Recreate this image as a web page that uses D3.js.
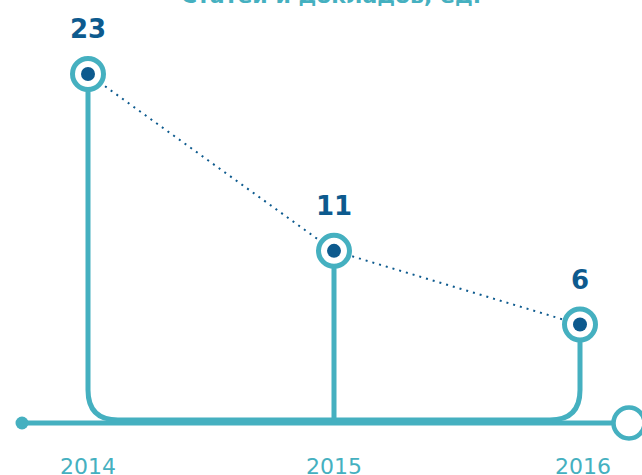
<!DOCTYPE html>
<html>
<head>
<meta charset="utf-8">
<script src="https://cdn.jsdelivr.net/npm/d3@7"></script>
<style>
body { margin: 0; background: #fff; }
</style>
</head>
<body>
<script>
var years = ["2014", "2015", "2016"];
var values = [23, 11, 6];
var title = "Статей и докладов, ед.";

var width = 642,
    height = 475;

var teal = "#45b0c0",
    navy = "#0d5a8e";

var svg = d3.select("body")
    .append("svg")
    .attr("width", width)
    .attr("height", height);

var x = d3.scalePoint()
    .domain(years)
    .range([88, 580]);

var y = d3.scaleLinear()
    .domain([0, 23])
    .range([413, 74]);

var axisY = 423;

// title (cut off at the top)
svg.append("text")
    .attr("x", 331)
    .attr("y", 3)
    .attr("text-anchor", "middle")
    .attr("font-family", "DejaVu Sans")
    .attr("font-weight", "bold")
    .attr("font-size", 22)
    .attr("fill", teal)
    .text(title);

// axis line
svg.append("line")
    .attr("x1", 22).attr("x2", 612)
    .attr("y1", axisY).attr("y2", axisY)
    .attr("stroke", teal)
    .attr("stroke-width", 5);

svg.append("circle")
    .attr("cx", 22).attr("cy", axisY).attr("r", 6.5)
    .attr("fill", teal);

svg.append("circle")
    .attr("cx", 629).attr("cy", axisY).attr("r", 15.5)
    .attr("fill", "#fff")
    .attr("stroke", teal)
    .attr("stroke-width", 4.5);

// stems: first and last curve into the axis
var r = 30, base = 420;
var x0 = x(years[0]), x2 = x(years[2]);
var stem = d3.path();
stem.moveTo(x0, y(values[0]));
stem.lineTo(x0, base - r);
stem.quadraticCurveTo(x0, base, x0 + r, base);
stem.lineTo(x2 - r, base);
stem.quadraticCurveTo(x2, base, x2, base - r);
stem.lineTo(x2, y(values[2]));

svg.append("path")
    .attr("d", stem.toString())
    .attr("fill", "none")
    .attr("stroke", teal)
    .attr("stroke-width", 5);

svg.append("line")
    .attr("x1", x(years[1])).attr("x2", x(years[1]))
    .attr("y1", y(values[1])).attr("y2", axisY)
    .attr("stroke", teal)
    .attr("stroke-width", 5);

// dotted connector
var line = d3.line()
    .x(function(d, i){ return x(years[i]); })
    .y(function(d){ return y(d); });

svg.append("path")
    .datum(values)
    .attr("d", line)
    .attr("fill", "none")
    .attr("stroke", navy)
    .attr("stroke-width", 2)
    .attr("stroke-dasharray", "2,5");

// markers
var pts = svg.selectAll(".pt")
    .data(values)
    .enter()
    .append("g")
    .attr("class", "pt")
    .attr("transform", function(d, i){
        return "translate(" + x(years[i]) + "," + y(d) + ")";
    });

pts.append("circle")
    .attr("r", 15.5)
    .attr("fill", "#fff")
    .attr("stroke", teal)
    .attr("stroke-width", 5);

pts.append("circle")
    .attr("r", 7)
    .attr("fill", navy);

pts.append("text")
    .attr("y", -36)
    .attr("text-anchor", "middle")
    .attr("font-family", "DejaVu Sans")
    .attr("font-weight", "bold")
    .attr("font-size", 26)
    .attr("fill", navy)
    .text(function(d){ return d; });

// year labels
svg.selectAll(".year")
    .data(years)
    .enter()
    .append("text")
    .attr("class", "year")
    .attr("x", function(d, i){ return x(d) + (i === 2 ? 3 : 0); })
    .attr("y", 474)
    .attr("text-anchor", "middle")
    .attr("font-family", "DejaVu Sans")
    .attr("font-size", 22)
    .attr("fill", teal)
    .text(function(d){ return d; });
</script>
</body>
</html>
